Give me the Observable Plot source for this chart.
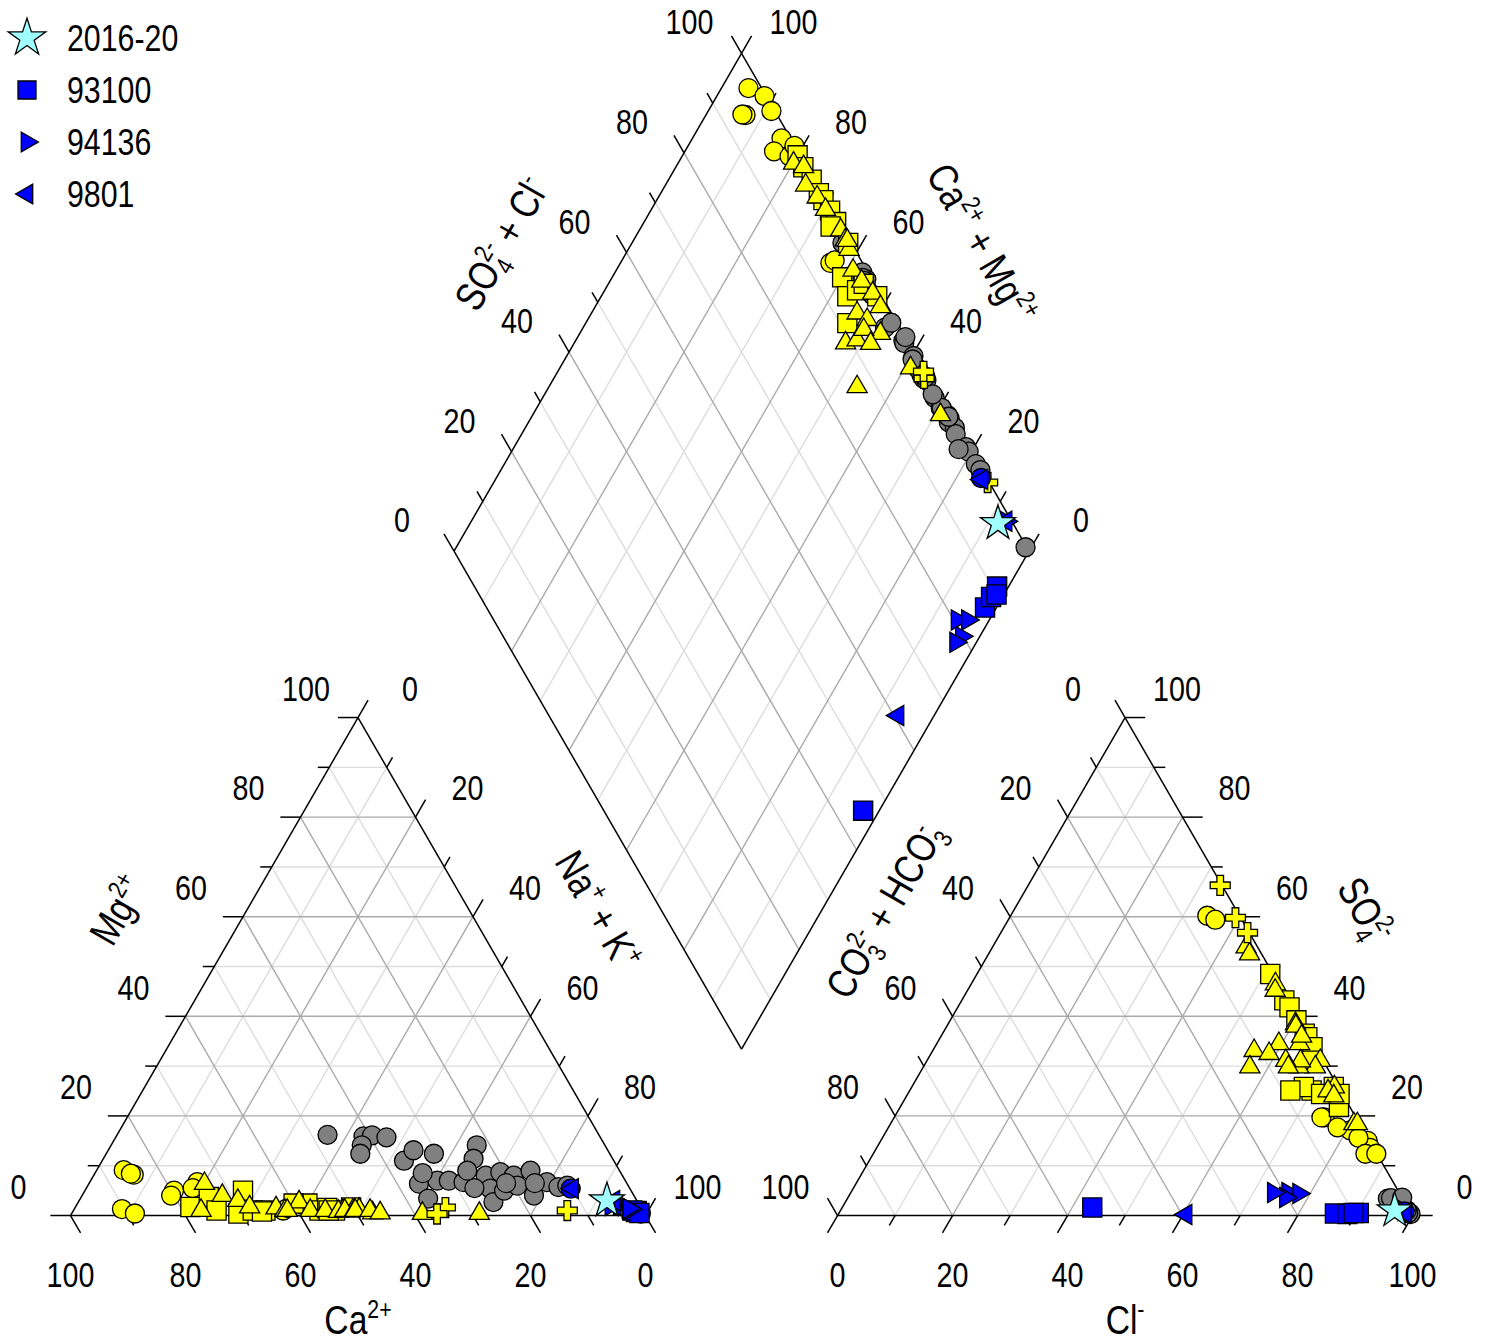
<!DOCTYPE html>
<html>
<head>
<meta charset="utf-8">
<script src="https://cdn.jsdelivr.net/npm/d3@7"></script>
<script src="https://cdn.jsdelivr.net/npm/@observablehq/plot@0.6"></script>
<style>
  html, body { margin: 0; padding: 0; background: #fff; }
  #wrap { position: relative; width: 1487px; height: 1340px; }
  #legend { position: absolute; left: 0; top: 0; }
</style>
</head>
<body>
<div id="wrap"></div>
<script>
// ---------------- DATA: each row = [Ca2+, Mg2+, SO4 2-, Cl-] in % meq ----------------
const grayCircles = [
  [47.2,16.2,2.0,96.5],[41.1,15.9,1.5,97.5],[39.5,16.1,1.0,98.0],[37.2,15.7,2.5,96.0],
  [42.3,14.1,1.0,97.5],[43.4,12.4,1.5,97.0],[36.5,11.0,3.4,94.0],[33.8,13.1,1.0,98.0],
  [30.6,12.4,0.8,98.5],[22.3,14.1,1.0,98.0],[24.2,11.4,2.0,97.0],[36.2,6.4,1.0,98.2],
  [32.7,7.0,0.5,99.0],[30.7,7.0,1.2,97.8],[28.3,6.7,0.8,98.5],[36.1,3.4,1.5,97.5],
  [23.8,8.0,1.0,98.0],[24.3,5.4,2.0,97.0],[25.1,2.7,0.5,99.0],[22.1,5.0,1.0,98.5],
  [20.9,8.7,0.8,98.4],[18.9,8.0,1.5,97.5],[19.3,6.0,0.5,99.0],[15.5,9.0,1.0,98.0],
  [17.4,4.0,0.8,98.7],[13.8,6.7,0.5,99.0],[12.3,5.7,1.0,98.5],[10.6,6.0,0.5,99.2],
  [0.6,0.4,0.3,99.5],[27.0,5.5,1.0,98.0],[21.0,6.5,0.5,99.0],[16.0,6.5,3.5,94.5],
  [26.5,9.0,1.0,98.5],[34.5,8.5,3.6,96.4]
];
const yellowCircles = [
  [86.2,9.1,17.1,80.6],[84.9,8.2,19.7,74.8],[90.4,1.3,15.0,84.7],[88.6,0.4,13.6,85.8],
  [79.5,5.0,15.6,82.8],[80.5,4.0,17.7,78.1],[74.6,6.7,12.4,85.6],[62.5,1.0,60.2,34.2],
  [61.5,1.5,59.4,36.0],[85.3,8.4,19.7,74.3],[76.0,5.5,12.4,87.5]
];
const yellowSquares = [
  [78.3,1.7,48.5,51.0],[74.1,3.7,43.2,56.1],[74.1,1.0,41.8,57.7],[67.5,5.0,39.2,60.2],
  [70.6,0.4,36.5,63.0],[67.8,1.0,35.8,63.8],[65.6,1.0,33.8,65.7],[66.3,0.8,31.1,67.0],
  [57.6,2.4,25.1,69.9],[56.2,1.0,25.8,68.2],[53.5,1.0,25.1,66.2],[54.6,1.5,24.4,71.9],
  [54.6,1.0,21.8,76.3],[50.4,1.6,25.8,73.4],[60.0,2.4,24.4,75.1]
];
const yellowTriangles = [
  [73.5,6.4,53.9,44.1],[76.8,1.0,46.5,52.9],[71.6,4.0,52.5,45.4],[69.4,3.0,45.2,53.5],
  [68.0,1.7,38.5,60.4],[63.5,1.5,31.1,68.4],[62.2,1.0,25.8,73.5],[58.9,2.7,18.4,80.6],
  [57.8,1.0,34.5,63.1],[55.2,1.0,29.8,68.2],[52.1,1.0,38.0,60.7],[49.2,1.2,36.0,62.7],
  [53.0,0.8,34.5,59.5],[50.4,1.0,29.8,65.3],[51.8,1.0,33.1,55.9],[50.1,1.0,32.5,58.8],
  [47.2,0.5,31.0,65.0],[50.0,1.0,31.1,62.4],[47.4,1.0,29.8,63.5],[45.9,0.5,29.8,56.8],
  [38.6,0.4,25.0,72.8],[28.7,0.4,24.0,74.3],[61.8,1.0,18.4,81.2]
];
const yellowCrosses = [
  [34.0,1.6,59.8,39.3],[36.1,0.3,56.8,42.9],[13.1,1.0,66.3,33.4]
];
const blueCircles = [[10.3,5.4,0.8,98.2]];
const s93100 = [[1.2,0.8,0.4,86.3],[1.1,0.9,0.5,90.4],[1.3,0.7,0.3,88.5],[1.8,1.0,1.6,43.5],[0.8,0.5,0.5,89.5]];
const s94136 = [[3.5,2.1,4.6,76.0],[2.3,1.5,4.4,78.0],[2.0,1.2,3.6,76.1],[2.2,1.4,4.6,73.5],[5.0,2.0,1.0,98.0]];
const s9801 = [[10.0,5.4,0.5,98.5],[4.3,2.0,0.2,60.5],[4.0,3.0,0.5,98.5]];
const s2016 = [[5.2,3.0,1.0,96.4]];

const legendLabels = ["2016-20", "93100", "94136", "9801"];
const gridVals = [10, 20, 30, 40, 50, 60, 70, 80, 90];
const tickVals = [0, 10, 20, 30, 40, 50, 60, 70, 80, 90, 100];
const labelVals = [0, 20, 40, 60, 80, 100];

// ---------------- GEOMETRY ----------------
const FONT = '"Liberation Sans",Arimo,Arial,sans-serif';
const NARROW = 0.82; // Arial Narrow look: horizontal squeeze of Liberation Sans
const WIDTH = 1487, HEIGHT = 1340, PX = 5.75, OX = 70, OY = 1215;
const S3 = Math.sqrt(3) / 2, GAP = 33.4, OFF = 100 + GAP, BX = 100 + GAP / 2, BY = GAP * S3;
const cat = (ca, mg) => [100 - ca - mg + mg / 2, mg * S3];
const an = (so4, cl) => [OFF + cl + so4 / 2, so4 * S3];
const dia = (c, s) => [BX + (s - c) / 2, BY + (s + c) * S3];
const seg = (a, b, extra = {}) => ({x1: a[0], y1: a[1], x2: b[0], y2: b[1], ...extra});

const grid = [];
for (const v of gridVals) {
  const major = v % 20 === 0;
  grid.push(seg(cat(100 - v, v), cat(0, v), {major}));
  grid.push(seg(cat(v, 0), cat(v, 100 - v), {major}));
  grid.push(seg(cat(100 - v, 0), cat(0, 100 - v), {major}));
  grid.push(seg(an(v, 0), an(v, 100 - v), {major}));
  grid.push(seg(an(0, v), an(100 - v, v), {major}));
  grid.push(seg(an(0, 100 - v), an(100 - v, 0), {major}));
  grid.push(seg(dia(v, 0), dia(v, 100), {major}));
  grid.push(seg(dia(0, v), dia(100, v), {major}));
}
const frame = [
  seg(cat(100, 0), cat(0, 0)), seg(cat(0, 0), cat(0, 100)), seg(cat(0, 100), cat(100, 0)),
  seg(an(0, 0), an(0, 100)), seg(an(0, 100), an(100, 0)), seg(an(100, 0), an(0, 0)),
  seg(dia(0, 0), dia(0, 100)), seg(dia(0, 100), dia(100, 100)),
  seg(dia(100, 100), dia(100, 0)), seg(dia(100, 0), dia(0, 0))
];
for (const v of tickVals) {
  const L = v % 20 === 0 ? 3.5 : 2;
  frame.push(seg(cat(100 - v, v), cat(100 - v + L, v)));
  frame.push(seg(cat(v, 0), cat(v, -L)));
  frame.push(seg(cat(0, 100 - v), cat(-L, 100 - v + L)));
  frame.push(seg(an(0, v), an(-L, v)));
  frame.push(seg(an(v, 100 - v), an(v, 100 - v + L)));
  frame.push(seg(an(100 - v, 0), an(100 - v + L, -L)));
  frame.push(seg(dia(100, v), dia(100 + L, v)));
  frame.push(seg(dia(v, 100), dia(v, 100 + L)));
}
const labels = [];
const lab = (p, dx, dy, v) => labels.push({x: p[0] + dx / PX, y: p[1] - dy / PX, text: String(v)});
for (const v of labelVals) {
  lab(cat(100 - v, v), -52, -28, v);
  lab(cat(v, 0), 0, 60, v);
  lab(cat(0, 100 - v), 52, -28, v);
  lab(an(0, v), 0, 60, v);
  lab(an(v, 100 - v), 52, -28, v);
  lab(an(100 - v, 0), -52, -28, v);
  lab(dia(100, v), -52, -30, v);
  lab(dia(v, 100), 52, -30, v);
}
const titles = [
  {key: "SO4+Cl", x: BX - 41.6, y: BY + 140, rotate: -60},
  {key: "Ca+Mg", x: BX + 41.6, y: BY + 140, rotate: 60},
  {key: "Mg", x: 50 - 41.6, y: 53, rotate: -60},
  {key: "NaK", x: 50 + 41.6, y: 53, rotate: 60},
  {key: "Ca", x: 50, y: -18.3, rotate: 0},
  {key: "Cl", x: OFF + 50, y: -18.3, rotate: 0},
  {key: "HCO3", x: OFF + 50 - 41.6, y: 53, rotate: -60},
  {key: "SO4", x: OFF + 50 + 41.6, y: 53, rotate: 60}
];
const titleSegs = {
  "SO4+Cl": [["SO"], ["4", "sub"], ["2-", "stack"], [" + Cl"], ["-", "sup"]],
  "Ca+Mg": [["Ca"], ["2+", "sup"], [" + Mg"], ["2+", "sup"]],
  "Mg": [["Mg"], ["2+", "sup"]],
  "NaK": [["Na"], ["+", "sup"], [" + K"], ["+", "sup"]],
  "Ca": [["Ca"], ["2+", "sup"]],
  "Cl": [["Cl"], ["-", "sup"]],
  "HCO3": [["CO"], ["3", "sub"], ["2-", "stack"], [" + HCO"], ["3", "sub"], ["-", "stack"]],
  "SO4": [["SO"], ["4", "sub"], ["2-", "stack"]]
};

const toPts = rows => rows.flatMap(([ca, mg, so4, cl]) =>
  [cat(ca, mg), an(so4, cl), dia(ca + mg, so4 + cl)].map(([x, y]) => ({x, y})));

const triRight = {draw(ctx, size) { const h = Math.sqrt(size / (3 * Math.sqrt(3)));
  ctx.moveTo(2 * h, 0); ctx.lineTo(-h, -Math.sqrt(3) * h); ctx.lineTo(-h, Math.sqrt(3) * h); ctx.closePath(); }};
const triLeft = {draw(ctx, size) { const h = Math.sqrt(size / (3 * Math.sqrt(3)));
  ctx.moveTo(-2 * h, 0); ctx.lineTo(h, -Math.sqrt(3) * h); ctx.lineTo(h, Math.sqrt(3) * h); ctx.closePath(); }};

const series = [
  {rows: grayCircles, fill: "#808080", symbol: "circle", r: 9.5},
  {rows: yellowCircles, fill: "#ffff00", symbol: "circle", r: 9.5},
  {rows: yellowSquares, fill: "#ffff00", symbol: "square", r: 10.8},
  {rows: yellowTriangles, fill: "#ffff00", symbol: "triangle", r: 7.5},
  {rows: yellowCrosses, fill: "#ffff00", symbol: "cross", r: 8.4},
  {rows: s93100, fill: "#0000ff", symbol: "square", r: 10.8},
  {rows: s94136, fill: "#0000ff", symbol: triRight, r: 7.5},
  {rows: blueCircles, fill: "#0000ff", symbol: "circle", r: 9.5},
  {rows: s9801, fill: "#0000ff", symbol: triLeft, r: 7.5},
  {rows: s2016, fill: "#a0ffff", symbol: "star", r: 11}
];

const lk = {x1: "x1", y1: "y1", x2: "x2", y2: "y2"};
const chart = Plot.plot({
  width: WIDTH, height: HEIGHT, margin: 0,
  x: {domain: [-OX / PX, (WIDTH - OX) / PX], axis: null},
  y: {domain: [(OY - HEIGHT) / PX, OY / PX], axis: null},
  style: {fontFamily: FONT, background: "white", overflow: "visible"},
  marks: [
    Plot.link(grid.filter(d => !d.major), {...lk, stroke: "#dddddd", strokeWidth: 1.4}),
    Plot.link(grid.filter(d => d.major), {...lk, stroke: "#aaaaaa", strokeWidth: 1.4}),
    Plot.link(frame, {...lk, stroke: "black", strokeWidth: 1.5}),
    Plot.text(labels, {x: "x", y: "y", text: "text", fontSize: 35, fontFamily: FONT, fill: "black"}),
    Plot.text(titles, {x: "x", y: "y", text: "key", rotate: "rotate", fontSize: 41, fontFamily: FONT, fill: "black"}),
    ...series.map(s => Plot.dot(toPts(s.rows), {x: "x", y: "y", r: s.r, symbol: s.symbol,
      fill: s.fill, stroke: "black", strokeWidth: 1.3}))
  ]
});
const wrap = document.getElementById("wrap");
wrap.appendChild(chart);

// rich text for the axis titles (sub/superscripts)
d3.select(chart).selectAll("text").each(function () {
  const segs = titleSegs[this.textContent];
  if (!segs) return;
  const t = d3.select(this);
  t.text(null);
  let shift = 0, lastSub = 0;
  for (const [str, kind] of segs) {
    const target = kind === "sup" || kind === "stack" ? -16 : kind === "sub" ? 9 : 0;
    const ts = t.append("tspan").text(str);
    if (target - shift !== 0) ts.attr("dy", target - shift);
    if (kind) ts.attr("font-size", 26);
    if (kind === "stack") ts.attr("dx", -lastSub);
    if (kind === "sub") lastSub = ts.node().getComputedTextLength();
    shift = target;
  }
});
// narrow the glyphs (condensed sans look)
d3.select(chart).selectAll("text").each(function () {
  const tr = this.getAttribute("transform");
  if (tr) this.setAttribute("transform", tr + ` scale(${NARROW},1)`);
});

// legend
const legendSyms = [
  {fill: "#a0ffff", type: d3.symbolStar, size: 440},
  {fill: "#0000ff", type: d3.symbolSquare, size: 324},
  {fill: "#0000ff", type: triRight, size: 170},
  {fill: "#0000ff", type: triLeft, size: 170}
];
const leg = d3.select(wrap).append("svg").attr("id", "legend").attr("width", 230).attr("height", 230);
legendLabels.forEach((label, i) => {
  const cy = 38 + i * 52;
  leg.append("path").attr("transform", `translate(27,${cy})`)
    .attr("d", d3.symbol(legendSyms[i].type, legendSyms[i].size)())
    .attr("fill", legendSyms[i].fill).attr("stroke", "black").attr("stroke-width", 1.3);
  leg.append("text").attr("transform", `translate(67,${cy}) scale(${NARROW},1)`).attr("dy", "0.35em")
    .attr("font-family", FONT).attr("font-size", 37).text(label);
});
</script>
</body>
</html>
